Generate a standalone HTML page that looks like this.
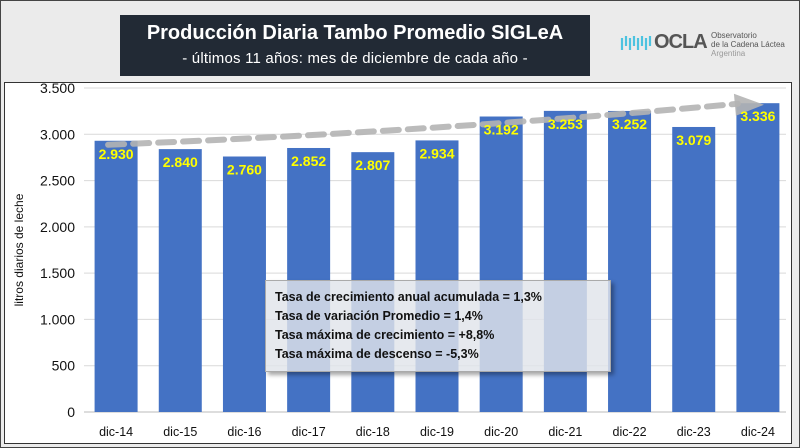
<!DOCTYPE html>
<html><head><meta charset="utf-8">
<style>
html,body{margin:0;padding:0}
body{width:800px;height:448px;background:#ebebeb;position:relative;overflow:hidden;font-family:"Liberation Sans",sans-serif}
.frame{position:absolute;left:0;top:0;width:798px;height:446px;border:1px solid #444}
.title-box{position:absolute;left:120px;top:15px;width:470px;height:61px;background:#222a35;color:#fff;text-align:center}
.t1{font-weight:bold;font-size:20px;margin-top:7px;letter-spacing:0px}
.t2{font-size:15px;margin-top:5px;letter-spacing:0.2px}
.chart{position:absolute;left:4px;top:82px;width:786px;height:360px;background:#fff;border:1px solid #333}
.info{position:absolute;left:265px;top:280px;width:346px;height:92px;background:rgba(225,228,234,0.82);border:1px solid #aaa;box-shadow:3px 3px 4px rgba(0,0,0,0.35);font-weight:bold;font-size:12.5px;color:#111;box-sizing:border-box;padding:7px 0 0 9px;line-height:19px}
</style></head><body>
<div class="frame"></div>
<div class="chart"></div>
<svg id="svg" width="800" height="448" style="position:absolute;left:0;top:0"></svg>
<div class="title-box">
<div class="t1">Producción Diaria Tambo Promedio SIGLeA</div>
<div class="t2">- últimos 11 años: mes de diciembre de cada año -</div>
</div>
<div style="position:absolute;left:620px;top:28px;width:175px;height:40px">
<svg width="36" height="22" style="position:absolute;left:0;top:4px"><path d="M2 18 V6 M6 4 V14 M10 6 V18 M14 4 V14 M18 6 V18 M22 4 V14 M26 6 V18 M30 4 V14" stroke="#4cc3e0" stroke-width="2.2" fill="none"/></svg>
<div style="position:absolute;left:34px;top:3px;font-size:20px;font-weight:bold;color:#555;letter-spacing:-1px">OCLA</div>
<div style="position:absolute;left:91px;top:3px;font-size:8px;color:#555;line-height:9px;white-space:nowrap">Observatorio<br>de la Cadena Láctea<br><span style="color:#999">Argentina</span></div>
</div>
<div class="info">
<div>Tasa de crecimiento anual acumulada = 1,3%</div>
<div>Tasa de variación Promedio = 1,4%</div>
<div>Tasa máxima de crecimiento = +8,8%</div>
<div>Tasa máxima de descenso = -5,3%</div>
</div>
<script>
const categories=["dic-14","dic-15","dic-16","dic-17","dic-18","dic-19","dic-20","dic-21","dic-22","dic-23","dic-24"];
const values=[2930,2840,2760,2852,2807,2934,3192,3253,3252,3079,3336];
const valueLabels=["2.930","2.840","2.760","2.852","2.807","2.934","3.192","3.253","3.252","3.079","3.336"];
const yTicks=[0,500,1000,1500,2000,2500,3000,3500];
const yTickLabels=["0","500","1.000","1.500","2.000","2.500","3.000","3.500"];
const NS="http://www.w3.org/2000/svg";
const svg=document.getElementById('svg');
const y0=412,yTop=88,yMax=3500,xL=84,xR=790;
function y(v){return y0-(v/yMax)*(y0-yTop);}
const step=(xR-xL)/categories.length;
function xc(i){return xL+step*(i+0.5);}
function mk(t,a){const e=document.createElementNS(NS,t);for(const k in a)e.setAttribute(k,a[k]);svg.appendChild(e);return e;}
yTicks.forEach((t,i)=>{
  const g=mk('line',{x1:xL,x2:xR-4,y1:y(t),y2:y(t),stroke:i==0?'#bbb':'#d9d9d9','stroke-width':1});
  
  
  const l=mk('text',{x:75,y:y(t)+5,'text-anchor':'end','font-size':14,fill:'#111','font-family':'Liberation Sans, sans-serif'});
  l.textContent=yTickLabels[i];
  
  
});
const at=mk('text',{x:0,y:0,transform:'translate(23,250) rotate(-90)','text-anchor':'middle','font-size':12,fill:'#111','font-family':'Liberation Sans, sans-serif'});
at.textContent='litros diarios de leche';


const bw=43;
values.forEach((v,i)=>{
  const b=mk('rect',{x:xc(i)-bw/2,y:y(v),width:bw,height:y0-y(v),fill:'#4472c4'});
  
  
  const c=mk('text',{x:xc(i),y:y0+24,'text-anchor':'middle','font-size':12.5,fill:'#111','font-family':'Liberation Sans, sans-serif'});
  c.textContent=categories[i];
  
  
});
const tr=mk('path',{d:`M${xc(0)-8} ${y(2930)+4} Q ${xc(5)} ${y(3030)} ${xc(10)-20} ${y(3330)}`,stroke:'#b4b4b4','stroke-width':6,'stroke-dasharray':'16 9',fill:'none','stroke-linecap':'round',opacity:0.9});


const ah=mk('polygon',{points:`${xc(10)-24},${y(3330)-10} ${xc(10)+6},${y(3330)+1} ${xc(10)-22},${y(3330)+12}`,fill:'#b4b4b4',opacity:0.9});


values.forEach((v,i)=>{
  const t=mk('text',{x:xc(i),y:y(v)+18,'text-anchor':'middle','font-size':14,'font-weight':'bold',fill:'#ffff00','font-family':'Liberation Sans, sans-serif'});
  t.textContent=valueLabels[i];
  
  
});
</script>
</body></html>
